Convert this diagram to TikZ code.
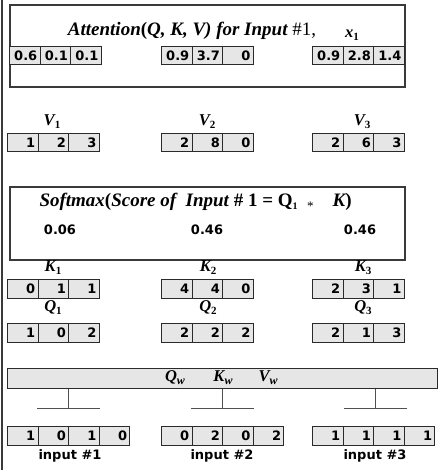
\documentclass[tikz,border=0pt]{standalone}
\usepackage{fontspec}
\setmainfont{Liberation Serif}
\newfontfamily\numfont{DejaVu Sans}
\definecolor{boxline}{HTML}{3A3A3A}
\definecolor{cellline}{HTML}{2A2A2A}
\definecolor{cellfill}{HTML}{E6E6E6}
\definecolor{stemcol}{HTML}{505050}
\newcommand\vrow[4]{%
  \foreach \v [count=\i] in {#4} {\node[cell] (#1\i) at ({#2+(\i-1)*30.6},#3) {\v};}}
\newcommand\lbl[2]{{\bfseries\itshape #1}\raisebox{-0.4ex}{\fontsize{11}{11}\selectfont\bfseries #2}}
\begin{document}
\begin{tikzpicture}[x=1pt,y=-1pt,
  cell/.style={draw=cellline, fill=cellfill, line width=0.9pt, minimum height=18.5pt,
    inner ysep=0pt, inner xsep=2.8pt, text width=25pt, align=right, anchor=north west,
    font=\numfont\bfseries\fontsize{13}{13}\selectfont},
  bigbox/.style={draw=boxline, line width=1.6pt, anchor=north west, inner sep=0pt},
  title/.style={font=\fontsize{19}{22}\selectfont},
  vlabel/.style={font=\fontsize{16.5}{17}\selectfont},
  numtxt/.style={font=\numfont\bfseries\fontsize{13}{13}\selectfont},
  stem/.style={draw=stemcol, line width=1pt}]
\useasboundingbox (0,0) rectangle (443,470);
\draw[boxline, line width=1.5pt] (2,0) -- (2,470);
% attention box
\node[bigbox, minimum width=395pt, minimum height=82pt] (att) at (9,4) {};
\node[title] (atttitle) at (192,31) {{\bfseries\itshape Attention}{\bfseries(}{\bfseries\itshape Q, K, V) for Input} \#1,};
\node[vlabel] (xlab) at (352,35) {\lbl{x}{1}};
\vrow{a}{9}{46}{0.6,0.1,0.1}
\vrow{b}{161}{46}{0.9,3.7,0}
\vrow{c}{312}{46}{0.9,2.8,1.4}
% V row
\node[vlabel] (vl1) at (52,122) {\lbl{V}{1}};
\node[vlabel] (vl2) at (207,122) {\lbl{V}{2}};
\node[vlabel] (vl3) at (362,122) {\lbl{V}{3}};
\vrow{va}{7}{133}{1,2,3}
\vrow{vb}{161}{133}{2,8,0}
\vrow{vc}{312}{133}{2,6,3}
% softmax box
\node[bigbox, minimum width=395pt, minimum height=73pt] (soft) at (9,186) {};
\node[title, anchor=west] (softtitle) at (36,202) {{\bfseries\itshape Softmax}{\bfseries(}{\bfseries\itshape Score of\ \ Input} {\bfseries\# 1 = Q\raisebox{-0.3ex}{\fontsize{10}{10}\selectfont 1}}\ \ \raisebox{-0.4ex}{\fontsize{13}{13}\selectfont *}\ \ \ \ {\bfseries\itshape K}{\bfseries)}};
\node[numtxt] (s1) at (60,230) {0.06};
\node[numtxt] (s2) at (207,230) {0.46};
\node[numtxt] (s3) at (360,230) {0.46};
% K row
\node[vlabel] (kl1) at (53,268) {\lbl{K}{1}};
\node[vlabel] (kl2) at (208,268) {\lbl{K}{2}};
\node[vlabel] (kl3) at (363,268) {\lbl{K}{3}};
\vrow{ka}{7}{279}{0,1,1}
\vrow{kb}{161}{279}{4,4,0}
\vrow{kc}{312}{279}{2,3,1}
% Q row
\node[vlabel] (ql1) at (53,308) {\lbl{Q}{1}};
\node[vlabel] (ql2) at (208,308) {\lbl{Q}{2}};
\node[vlabel] (ql3) at (363,308) {\lbl{Q}{3}};
\vrow{qa}{7}{323}{1,0,2}
\vrow{qb}{161}{323}{2,2,2}
\vrow{qc}{312}{323}{2,1,3}
% weight bar
\node[draw=cellline, fill=cellfill, line width=0.9pt, minimum width=430pt, minimum height=20pt, anchor=north west, inner sep=0pt] (bar) at (7,368) {};
\node[vlabel] (qw) at (175,378) {{\bfseries\itshape Q}\raisebox{-0.4ex}{\fontsize{12}{12}\selectfont\bfseries\itshape w}};
\node[vlabel] (kw) at (223,378) {{\bfseries\itshape K}\raisebox{-0.4ex}{\fontsize{12}{12}\selectfont\bfseries\itshape w}};
\node[vlabel] (vw) at (268,378) {{\bfseries\itshape V}\raisebox{-0.4ex}{\fontsize{12}{12}\selectfont\bfseries\itshape w}};
\coordinate (t1) at (68.5,408);
\coordinate (t2) at (222.5,408);
\coordinate (t3) at (375.5,408);
\foreach \t in {t1,t2,t3}{
  \draw[stem] (bar.south -| \t) -- (\t);
  \draw[stem] ([xshift=-31.5pt]\t) -- ([xshift=31.5pt]\t);
}
% inputs
\vrow{ia}{7}{426}{1,0,1,0}
\vrow{ib}{161}{426}{0,2,0,2}
\vrow{ic}{312}{426}{1,1,1,1}
\node[numtxt] (in1) at (70,456) {input \#1};
\node[numtxt] (in2) at (222,456) {input \#2};
\node[numtxt] (in3) at (375,456) {input \#3};
\end{tikzpicture}
\end{document}
